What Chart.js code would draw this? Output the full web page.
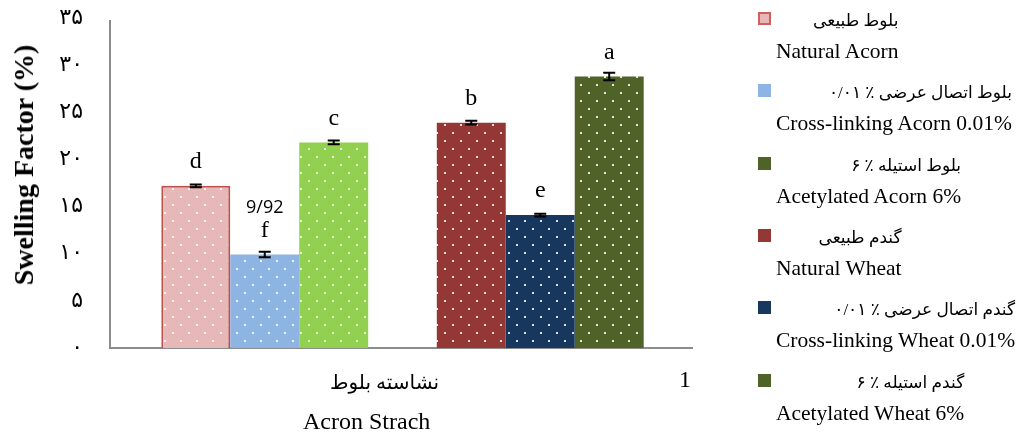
<!DOCTYPE html>
<html>
<head>
<meta charset="utf-8">
<script src="https://cdn.jsdelivr.net/npm/chart.js@4.4.1/dist/chart.umd.min.js"></script>
<style>
  body { margin: 0; background: #fff; }
  #wrap { position: relative; width: 1017px; height: 437px; }
  #chart { position: absolute; left: 0; top: 0; }
  .txt { position: absolute; font-family: "Liberation Serif", "DejaVu Sans", serif; color: #000; white-space: nowrap; }
  .fa { direction: rtl; font-size: 17px; }
  .en { font-size: 21.5px; }
  .mark { position: absolute; width: 13px; height: 13px; box-sizing: border-box; }
  .item { position: absolute; left: 776px; text-align: right; }
  .item div { line-height: 1; }
</style>
</head>
<body>
<div id="wrap">
  <canvas id="chart" width="1017" height="437"></canvas>
  <div class="txt" style="left:24px;top:165px;transform:translate(-50%,-50%) rotate(-90deg);font-size:28px;font-weight:bold;">Swelling Factor (%)</div>
  <div class="txt fa" style="left:330px;top:370px;font-size:20px;">نشاسته بلوط</div>
  <div class="txt" style="left:679px;top:366px;font-size:24px;">1</div>
  <div class="txt" style="left:303px;top:408px;font-size:24px;">Acron Strach</div>
  <div id="legend"></div>
</div>
<script>
// values
const categories = ['نشاسته بلوط', '1'];
const seriesFa = ['بلوط طبیعی', 'بلوط  اتصال عرضی ٪ ۰/۰۱', 'بلوط استیله ٪ ۶', 'گندم طبیعی', 'گندم اتصال عرضی ٪ ۰/۰۱', 'گندم استیله ٪ ۶'];
const seriesEn = ['Natural Acorn', 'Cross-linking Acorn 0.01%', 'Acetylated Acorn 6%', 'Natural Wheat', 'Cross-linking Wheat 0.01%', 'Acetylated Wheat 6%'];
const naturalAcorn = [17.2, null];
const crossAcorn = [9.92, null];
const acetylAcorn = [21.8, null];
const naturalWheat = [null, 23.9];
const crossWheat = [null, 14.1];
const acetylWheat = [null, 28.8];
const errNaturalAcorn = [0.15, null];
const errCrossAcorn = [0.3, null];
const errAcetylAcorn = [0.2, null];
const errNaturalWheat = [null, 0.2];
const errCrossWheat = [null, 0.15];
const errAcetylWheat = [null, 0.4];
const letters = ['d', 'f', 'c', 'b', 'e', 'a'];
const notes = ['', '9/92', '', '', '', ''];
const yTicks = [0, 5, 10, 15, 20, 25, 30, 35];

const fills = ['#E6B9B8', '#8DB4E2', '#92D050', '#953735', '#17375E', '#4F6228'];
const legendColors = ['#E6B9B8', '#8DB4E2', '#4F6228', '#953735', '#17375E', '#4F6228'];

function dots(color) {
  const c = document.createElement('canvas');
  c.width = 16; c.height = 16;
  const g = c.getContext('2d');
  g.fillStyle = color;
  g.fillRect(0, 0, 16, 16);
  g.fillStyle = 'rgba(255,255,255,0.85)';
  g.fillRect(4, 4, 2, 2);
  g.fillRect(12, 12, 2, 2);
  return g.createPattern(c, 'repeat');
}

const faDigits = '۰۱۲۳۴۵۶۷۸۹';
const toFa = n => String(n).replace(/\d/g, d => faDigits[d]);

const values = [naturalAcorn, crossAcorn, acetylAcorn, naturalWheat, crossWheat, acetylWheat];
const errors = [errNaturalAcorn, errCrossAcorn, errAcetylAcorn, errNaturalWheat, errCrossWheat, errAcetylWheat];

const datasets = values.map((v, i) => ({
  label: seriesEn[i],
  data: v,
  backgroundColor: dots(fills[i]),
  borderColor: i === 0 ? '#C0504D' : 'rgba(0,0,0,0)',
  borderWidth: i === 0 ? 2 : 0,
  skipNull: true,
  barPercentage: 1,
  categoryPercentage: 0.751
}));

// axis lines stick out a little past the plot like the original
const axisLines = {
  id: 'axisLines',
  beforeDatasetsDraw(chart) {
    const a = chart.chartArea, ctx = chart.ctx;
    ctx.save();
    ctx.strokeStyle = '#8C8C8C';
    ctx.lineWidth = 2;
    ctx.beginPath();
    ctx.moveTo(a.left - 17, a.top + 2);
    ctx.lineTo(a.left - 17, a.bottom);
    ctx.lineTo(a.right + 15, a.bottom);
    ctx.stroke();
    ctx.restore();
  }
};

const errorBars = {
  id: 'errorBars',
  afterDatasetsDraw(chart) {
    const ctx = chart.ctx, y = chart.scales.y;
    ctx.save();
    chart.data.datasets.forEach((ds, i) => {
      chart.getDatasetMeta(i).data.forEach((bar, j) => {
        const v = ds.data[j];
        if (v == null) return;
        const e = errors[i][j];
        const t = y.getPixelForValue(v + e), b = y.getPixelForValue(v - e);
        ctx.strokeStyle = '#000';
        ctx.lineWidth = 2;
        ctx.beginPath();
        ctx.moveTo(bar.x, t); ctx.lineTo(bar.x, b);
        ctx.moveTo(bar.x - 6, t); ctx.lineTo(bar.x + 6, t);
        ctx.moveTo(bar.x - 6, b); ctx.lineTo(bar.x + 6, b);
        ctx.stroke();
        ctx.fillStyle = '#000';
        ctx.textAlign = 'center';
        ctx.textBaseline = 'middle';
        ctx.font = '24px "Liberation Serif", serif';
        ctx.fillText(letters[i], bar.x, bar.y - 24);
        if (notes[i]) {
          ctx.font = '18px "Open Sans", sans-serif';
          ctx.fillText(notes[i], bar.x, bar.y - 47);
        }
      });
    });
    ctx.restore();
  }
};

new Chart(document.getElementById('chart'), {
  type: 'bar',
  data: { labels: categories, datasets },
  plugins: [axisLines, errorBars],
  options: {
    responsive: false,
    animation: false,
    layout: { padding: { left: 0, right: 339, top: 18, bottom: 89 } },
    plugins: { legend: { display: false }, tooltip: { enabled: false } },
    scales: {
      x: { display: false },
      y: {
        min: 0, max: 35,
        // tick padding would otherwise push the plot top down
        afterFit(s) { s.width = 127; s.paddingTop = 10; s.paddingBottom = 10; },
        afterBuildTicks(s) { s.ticks = yTicks.map(v => ({ value: v })); },
        grid: { display: false },
        border: { display: false },
        ticks: {
          padding: 36,
          color: '#000',
          font: { size: 22, family: '"Liberation Serif", "DejaVu Sans", serif' },
          callback: v => toFa(v)
        }
      }
    }
  }
});

// legend: Persian line right-aligned above English line
const legendTop = [12, 84, 157, 229, 301, 374];
const legend = document.getElementById('legend');
seriesEn.forEach((name, i) => {
  const m = document.createElement('div');
  m.className = 'mark';
  m.style.left = '758px';
  m.style.top = legendTop[i] + 'px';
  m.style.background = legendColors[i];
  if (i === 0) m.style.border = '2px solid #D06060';
  legend.appendChild(m);
  const it = document.createElement('div');
  it.className = 'txt item';
  it.style.top = legendTop[i] + 'px';
  it.innerHTML = '<div class="fa" style="height:29px;">' + seriesFa[i] + '</div><div class="en">' + name + '</div>';
  legend.appendChild(it);
});
</script>
</body>
</html>
